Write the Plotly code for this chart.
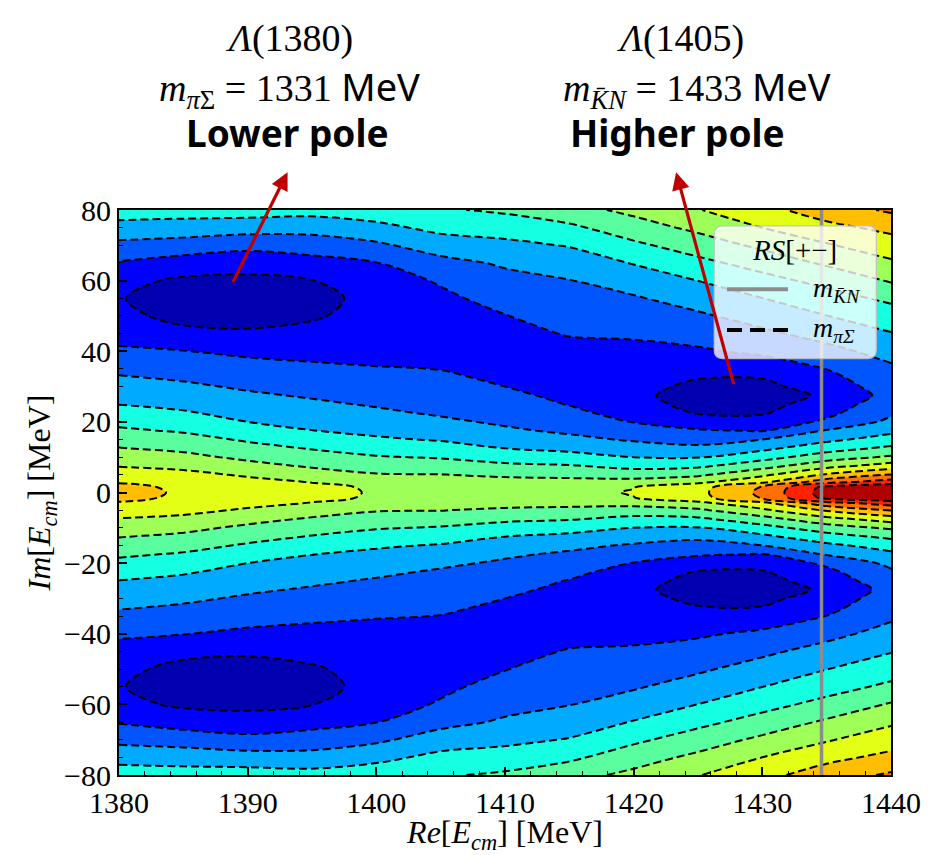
import plotly.graph_objects as go

# ---- surface data -------------------------------------------------------
# Re(E_cm) columns and Im(E_cm) rows (upper half plane), MeV
re_grid = [1380, 1385, 1390, 1395, 1400, 1405, 1410, 1415, 1420, 1425, 1430, 1435, 1440]
im_upper = [0, 1.5, 3, 5, 7.5, 10, 12.5, 15, 17.5, 20, 22.5, 25, 27.5, 30, 33, 36,
            40, 45, 50, 55, 60, 65, 70, 75, 80]

# contour-level value of the surface at each node, one list per Re column
# (entries follow im_upper from Im = 0 up to Im = 80)
level_1380 = [8.30, 8.22, 7.93, 7.49, 6.95, 6.49, 6.04, 5.60, 5.16, 4.75, 4.36, 3.98, 3.68,
              3.38, 3.02, 2.67, 2.19, 1.56, 1.19, 1.06, 1.26, 1.92, 2.74, 3.63, 4.50]
level_1385 = [7.89, 7.85, 7.70, 7.30, 6.74, 6.26, 5.80, 5.35, 4.90, 4.50, 4.10, 3.77, 3.47,
              3.17, 2.82, 2.48, 2.03, 1.20, 0.78, 0.50, 0.85, 1.55, 2.58, 3.53, 4.45]
level_1390 = [7.56, 7.51, 7.30, 6.87, 6.31, 5.80, 5.33, 4.88, 4.44, 4.00, 3.71, 3.43, 3.14,
              2.87, 2.56, 2.26, 1.80, 1.12, 0.68, 0.40, 0.79, 1.38, 2.29, 3.43, 4.45]
level_1395 = [7.24, 7.20, 6.96, 6.46, 5.89, 5.42, 4.94, 4.48, 4.02, 3.73, 3.44, 3.16, 2.90,
              2.66, 2.38, 2.09, 1.73, 1.29, 0.89, 0.65, 0.98, 1.66, 2.45, 3.38, 4.35]
level_1400 = [6.93, 6.90, 6.63, 6.08, 5.57, 5.08, 4.60, 4.13, 3.78, 3.48, 3.17, 2.91, 2.69,
              2.48, 2.23, 1.98, 1.72, 1.43, 1.35, 1.35, 1.54, 1.97, 2.82, 3.71, 4.60]
level_1405 = [6.75, 6.70, 6.49, 6.03, 5.47, 4.92, 4.41, 3.92, 3.55, 3.17, 2.89, 2.70, 2.52,
              2.33, 2.10, 1.92, 1.72, 1.47, 1.57, 1.80, 2.10, 2.69, 3.47, 4.28, 4.90]
level_1410 = [6.70, 6.62, 6.36, 5.83, 5.20, 4.60, 4.00, 3.58, 3.15, 2.86, 2.65, 2.43, 2.22,
              2.00, 1.84, 1.67, 1.45, 1.71, 1.97, 2.33, 2.70, 3.13, 3.75, 4.44, 5.15]
level_1415 = [6.80, 6.70, 6.33, 5.72, 5.08, 4.37, 3.76, 3.24, 2.84, 2.54, 2.24, 1.96, 1.76,
              1.57, 1.33, 1.40, 1.70, 2.06, 2.36, 2.67, 2.97, 3.49, 4.06, 4.80, 5.65]
level_1420 = [7.05, 6.98, 6.40, 5.53, 4.74, 4.00, 3.43, 2.89, 2.43, 1.97, 1.62, 1.40, 1.30,
              1.33, 1.40, 1.48, 1.75, 2.13, 2.52, 2.90, 3.44, 4.05, 4.80, 5.55, 6.25]
level_1425 = [7.75, 7.65, 6.76, 5.83, 4.82, 3.94, 3.23, 2.64, 2.11, 1.49, 0.94, 0.67, 0.45,
              0.77, 1.10, 1.43, 1.87, 2.37, 2.85, 3.42, 4.01, 4.73, 5.48, 6.23, 6.95]
level_1430 = [9.22, 9.10, 7.76, 6.80, 5.63, 4.64, 3.78, 3.00, 1.95, 1.36, 0.91, 0.68, 0.55,
              0.77, 1.08, 1.58, 2.19, 2.80, 3.40, 3.99, 4.66, 5.40, 6.21, 7.00, 7.70]
level_1435 = [11.50, 11.30, 9.62, 8.14, 6.68, 5.52, 4.59, 3.78, 3.08, 2.19, 1.76, 1.45, 1.15,
              1.43, 1.77, 2.14, 2.71, 3.37, 3.98, 4.60, 5.31, 6.15, 6.91, 7.72, 8.50]
level_1440 = [11.85, 11.70, 10.50, 9.07, 7.47, 6.16, 5.21, 4.42, 3.77, 3.23, 2.86, 2.60, 2.35,
              2.52, 2.73, 2.93, 3.36, 3.95, 4.55, 5.21, 6.09, 6.85, 7.53, 8.27, 9.15]

level_columns = [level_1380, level_1385, level_1390, level_1395, level_1400, level_1405,
                 level_1410, level_1415, level_1420, level_1425, level_1430, level_1435,
                 level_1440]

# thresholds (MeV) and the two pole arrows (tail at the pole, head under its label)
m_KbarN = 1434.6
m_piSigma = 1331.0
arrow_tail_re = [1388.8, 1427.8]
arrow_tail_im = [59.2, 30.3]
arrow_head_re = [1393.1, 1423.3]
arrow_head_im = [90.7, 90.7]

# contour levels and jet band colours (band k lies between level k and k+1)
level_start, level_end = 1, 11
jet_bands = ["#0000B0", "#0000FF", "#0055FF", "#00AAFF", "#15FFE2", "#59FF9E",
             "#9EFF59", "#E2FF15", "#FFBE00", "#FF7000", "#FF2100", "#B00000"]

# ---- assemble the full Im range ----------------------------------------
# the surface is symmetric under Im E -> -Im E, so the lower half reuses the upper rows
rows_upper = [[col[i] for col in level_columns] for i in range(len(im_upper))]
im_full = [-v for v in im_upper[:0:-1]] + im_upper
z_full = rows_upper[:0:-1] + rows_upper

n_bands = len(jet_bands) - 1
colorscale = [[k / n_bands, c] for k, c in enumerate(jet_bands)]

SERIF = "Liberation Serif"
SANS = "Noto Sans"

fig = go.Figure()
fig.add_trace(go.Contour(
    x=re_grid, y=im_full, z=z_full,
    autocontour=False,
    contours=dict(start=level_start, end=level_end, size=1, coloring="fill"),
    colorscale=colorscale, showscale=False,
    line=dict(color="black", width=2, dash="8px,4px", smoothing=1.0),
    hoverinfo="skip",
))

# threshold lines
fig.add_trace(go.Scatter(
    x=[m_KbarN, m_KbarN], y=[im_full[0], im_full[-1]], mode="lines",
    line=dict(color="#8c8c8c", width=3.5), showlegend=False, hoverinfo="skip"))
fig.add_trace(go.Scatter(
    x=[m_piSigma, m_piSigma], y=[im_full[0], im_full[-1]], mode="lines",
    line=dict(color="black", width=2.5, dash="dash"), showlegend=False, hoverinfo="skip"))

# ---- axes ----------------------------------------------------------------
axis_common = dict(
    showgrid=False, zeroline=False, showline=True, linecolor="black", linewidth=2,
    mirror=True, ticks="inside", ticklen=8, tickwidth=1.5, tickcolor="black",
    tickfont=dict(family=SERIF, size=30, color="black"),
)
fig.update_xaxes(
    range=[1380, 1440], tickmode="array", tickvals=list(range(1380, 1441, 10)),
    minor=dict(dtick=2, ticks="inside", ticklen=4, tickwidth=1, tickcolor="black"),
    title=dict(text="<i>Re</i>[<i>E</i><sub><i>cm</i></sub>] [MeV]",
               font=dict(family=SERIF, size=32, color="black"), standoff=2),
    **axis_common)
fig.update_yaxes(
    range=[-80, 80], tickmode="array", tickvals=list(range(-80, 81, 20)),
    minor=dict(dtick=5, ticks="inside", ticklen=4, tickwidth=1, tickcolor="black"),
    title=dict(text="<i>Im</i>[<i>E</i><sub><i>cm</i></sub>] [MeV]",
               font=dict(family=SERIF, size=32, color="black"), standoff=4),
    **axis_common)

# ---- legend box (drawn in paper coordinates) ------------------------------
x0, x1, y0, y1 = 0.771, 0.981, 0.737, 0.972
rx, ry = 0.011, 0.015
box_path = (f"M{x0+rx},{y0} L{x1-rx},{y0} Q{x1},{y0} {x1},{y0+ry} "
            f"L{x1},{y1-ry} Q{x1},{y1} {x1-rx},{y1} L{x0+rx},{y1} Q{x0},{y1} {x0},{y1-ry} "
            f"L{x0},{y0+ry} Q{x0},{y0} {x0+rx},{y0} Z")
shapes = [
    dict(type="path", path=box_path, xref="paper", yref="paper",
         fillcolor="rgba(255,255,255,0.78)", line=dict(color="rgba(190,190,190,0.9)", width=1.2),
         layer="above"),
    dict(type="line", xref="paper", yref="paper", x0=0.7876, x1=0.8666, y0=0.8596, y1=0.8596,
         line=dict(color="#8c8c8c", width=4), layer="above"),
    dict(type="line", xref="paper", yref="paper", x0=0.7876, x1=0.8666, y0=0.7877, y1=0.7877,
         line=dict(color="black", width=4, dash="15px,8px"), layer="above"),
]


def label(text, x, y, family, size, xanchor="center"):
    return dict(text=text, x=x, y=y, xref="paper", yref="paper", xanchor=xanchor,
                yanchor="middle", showarrow=False,
                font=dict(family=family, size=size, color="black"))


annotations = [
    label("<i>RS</i>[+−]", 0.8756, 0.9298, SERIF, 29),
    label("<i>m</i><sub><i>K̄N</i></sub>", 0.897, 0.8596, SERIF, 28, "left"),
    label("<i>m</i><sub><i>πΣ</i></sub>", 0.897, 0.7877, SERIF, 28, "left"),
    # pole labels above the plot
    label("<i>Λ</i>(1380)", 0.2215, 1.303, SERIF, 38),
    label("<i>m</i><sub><i>π</i>Σ</sub> = 1331 <span style='font-family:Noto Sans'>MeV</span>",
          0.2215, 1.216, SERIF, 38),
    label("<b>Lower pole</b>", 0.218, 1.138, SANS, 37),
    label("<i>Λ</i>(1405)", 0.7267, 1.303, SERIF, 38),
    label("<i>m</i><sub><i>K̄N</i></sub> = 1433 <span style='font-family:Noto Sans'>MeV</span>",
          0.7487, 1.216, SERIF, 38),
    label("<b>Higher pole</b>", 0.7228, 1.138, SANS, 37),
]
for tx, ty, hx, hy in zip(arrow_tail_re, arrow_tail_im, arrow_head_re, arrow_head_im):
    annotations.append(dict(
        text="", x=hx, y=hy, xref="x", yref="y", ax=tx, ay=ty, axref="x", ayref="y",
        showarrow=True, arrowhead=2, arrowsize=1.1, arrowwidth=3.2, arrowcolor="#C00000",
        standoff=0, startstandoff=0))

fig.update_layout(
    width=946, height=855,
    margin=dict(l=119, r=55, t=210, b=75),
    paper_bgcolor="white", plot_bgcolor="white",
    showlegend=False,
    shapes=shapes, annotations=annotations,
)

fig.write_html("out.html")
